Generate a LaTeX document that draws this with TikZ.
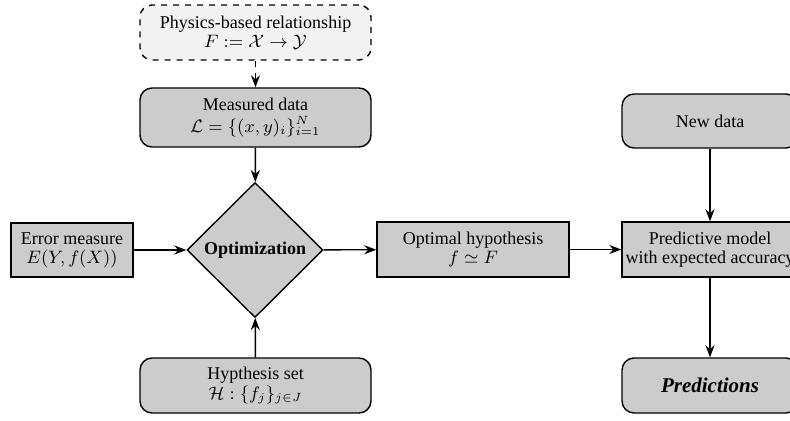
\documentclass[tikz,border=0pt]{standalone}
\usepackage{amsmath}
\usepackage{fontspec}
\setmainfont{Liberation Serif}[Ligatures=TeX]
\usetikzlibrary{shapes.geometric,arrows.meta}

\tikzset{
  flowline/.style={draw=black, line width=0.7pt, -{Stealth[length=6pt,width=4.5pt]}},
  roundbox/.style={draw=black, line width=0.7pt, fill=gray!40, rounded corners=6pt,
    minimum width=115.5pt, minimum height=27.5pt, align=center, inner sep=1pt},
  squarebox/.style={draw=black, line width=0.7pt, fill=gray!40,
    minimum height=27.5pt, align=center, inner sep=1pt},
}

\begin{document}
\begin{tikzpicture}[x=0.5pt,y=0.5pt,yscale=-1,xscale=1,
  font=\rmfamily\fontsize{9}{9.6}\selectfont]
  \useasboundingbox (0,0) rectangle (790,421);
  \clip (0,0) rectangle (790,421);

  % Physics box
  \node [roundbox, dashed, fill=gray!10] (phys) at (255.5,32.5)
    {Physics-based relationship\\ $F := \mathcal{X} \rightarrow \mathcal{Y}$};
  % Measured data
  \node [roundbox, minimum height=29.5pt] (meas) at (255.5,117.5)
    {Measured data\\[1pt] $\mathcal{L} = \{(x,y)_i\}_{i=1}^{N}$};
  % Optimization diamond
  \node [diamond, draw=black, line width=0.7pt, fill=gray!40, inner sep=0pt,
    minimum width=68pt, minimum height=67.5pt] (optim) at (255,250)
    {\fontsize{9}{11}\selectfont\textbf{Optimization}};
  % Hypothesis set
  \node [roundbox] (hyp) at (255.5,385.5)
    {Hypthesis set\\ $\mathcal{H} : \{f_j\}_{j \in J}$};
  % Error measure
  \node [squarebox, minimum width=61pt, minimum height=27pt] (err) at (72,250)
    {Error measure\\ $E(Y,f(X))$};
  % Optimal hypothesis
  \node [squarebox, minimum width=96pt] (best) at (473,249.5)
    {Optimal hypothesis\\ $f \simeq F$};
  % Predictive model
  \node [squarebox, minimum width=88pt] (model) at (710,249.5)
    {Predictive model\\ with expected accuracy};
  % New data
  \node [roundbox, minimum width=88pt, minimum height=27pt] (new) at (710,121)
    {New data};
  % Predictions
  \node [roundbox, minimum width=88pt] (pred) at (710,385.5)
    {\fontsize{10.5}{12}\selectfont\textbf{\textit{Predictions}}};

  % Connectors
  \draw [flowline, dashed] (phys) -- (meas);
  \draw [flowline] (meas) -- (optim);
  \draw [flowline] (hyp) -- (optim);
  \draw [flowline] (err) -- (optim);
  \draw [flowline] (optim) -- (best);
  \draw [flowline] (best) -- (model);
  \draw [flowline] (new) -- (model);
  \draw [flowline] (model) -- (pred);

\end{tikzpicture}
\end{document}
